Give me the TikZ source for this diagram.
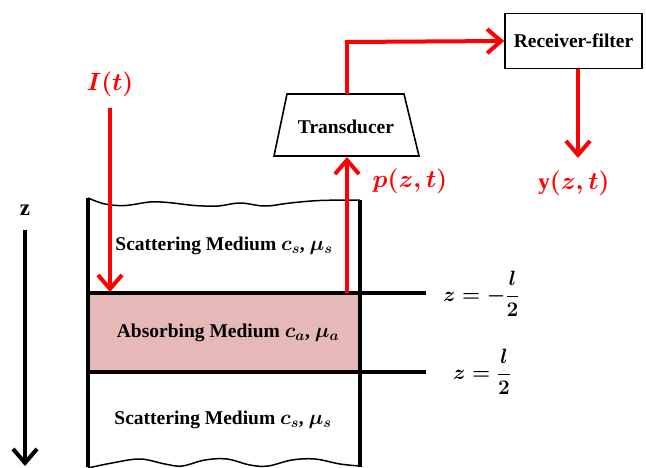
\documentclass[tikz,border=0pt]{standalone}
\usepackage{amsmath}
\usepackage{fontspec}
\setmainfont{Liberation Serif}
\usetikzlibrary{arrows.meta}
\definecolor{pinkfill}{RGB}{230,185,184}
\newcommand{\bm}[1]{\boldsymbol{#1}}
\begin{document}
\begin{tikzpicture}[x=1pt,y=-1pt,
  redarrow/.style={red, line width=4pt, -{Straight Barb[length=14pt,width=24pt,line width=4pt]}},
  redline/.style={red, line width=4pt},
  wall/.style={black, line width=4pt},
  wave/.style={black, line width=1.5pt},
  txt/.style={font=\fontsize{19.5}{22}\bfseries\selectfont, inner sep=0pt},
  mlabel/.style={red, font=\fontsize{23}{27}\selectfont, inner sep=0pt},
  blabel/.style={black, font=\fontsize{22}{26}\selectfont, inner sep=0pt},
  box/.style={draw, line width=1.6pt, fill=white}
]
\useasboundingbox (0,0) rectangle (646,467);
% absorbing layer fill
\fill[pinkfill] (88,293) rectangle (360,372);
% top wave
\draw[wave] plot[smooth, tension=0.6] coordinates {(88,198) (105,204) (125,205.5) (150,202) (168,202.5) (195,205.5) (218,206) (240,203) (265,206) (290,203) (320,200.5) (360,200)};
% bottom wave
\draw[wave] plot[smooth, tension=0.6] coordinates {(88,468) (112,463) (140,459) (165,464) (182,466) (205,460) (227,459) (250,465) (268,466) (292,460) (315,459) (340,464) (360,466)};
% walls
\draw[wall] (88,198) -- (88,467);
\draw[wall] (360,200) -- (360,467);
% interfaces
\coordinate (i1L) at (88,293);
\coordinate (i1R) at (426,293);
\coordinate (i2L) at (88,372);
\coordinate (i2R) at (426,372);
\draw[wall] (i1L) -- (i1R);
\draw[wall] (i2L) -- (i2R);
% z axis
\node[txt, font=\fontsize{23}{26}\bfseries\selectfont] (zlab) at (25,210) {z};
\coordinate (zs) at (25,230);
\coordinate (ze) at (25,466);
\draw[line width=4pt, -{Straight Barb[length=14pt,width=24pt,line width=4pt]}] (zs) -- (ze);
% medium labels
\node[txt] (scat1) at (224,246) {Scattering Medium $\bm{c_s}$, $\bm{\mu_s}$};
\node[txt] (abs) at (228,333) {Absorbing Medium $\bm{c_a}$, $\bm{\mu_a}$};
\node[txt] (scat2) at (223,420) {Scattering Medium $\bm{c_s}$, $\bm{\mu_s}$};
% boundary labels
\node[blabel, anchor=west] (zm) at (443,294) {$\bm{z=-\dfrac{l}{2}}$};
\node[blabel, anchor=west] (zp) at (453,372) {$\bm{z=\dfrac{l}{2}}$};
% I(t)
\node[mlabel] (Ilab) at (110,84) {$\bm{I(t)}$};
\coordinate (Is) at (110,108);
\coordinate (Ie) at (110,292);
\draw[redarrow] (Is) -- (Ie);
% transducer
\coordinate (t1) at (287,94);
\coordinate (t2) at (404,94);
\coordinate (t3) at (419,156);
\coordinate (t4) at (274,156);
\draw[line width=1.6pt, fill=white] (t1) -- (t2) -- (t3) -- (t4) -- cycle;
\node[txt] (trans) at (346,127) {Transducer};
\coordinate (tbot) at (347,157);
\coordinate (ttop) at (347,94);
\coordinate (ps) at (347,293);
\draw[redarrow] (ps) -- (tbot);
\node[mlabel] (plab) at (410,181) {$\bm{p(z,t)}$};
% receiver
\node[box, minimum width=137pt, minimum height=55pt, inner sep=0pt] (recv) at (573.5,41) {};
\node[txt] (recvt) at (recv.center) {Receiver-filter};
\coordinate (corner) at (347,42);
\draw[redline] (ttop) -- (corner);
\draw[redarrow] ([xshift=-2pt]corner) -- (recv.west);
\coordinate (ye) at (578,158);
\draw[redarrow] (recv.south -| ye) -- (ye);
\node[mlabel] (ylab) at (574,183) {$\mathbf{y}\bm{(z,t)}$};
\end{tikzpicture}
\end{document}
